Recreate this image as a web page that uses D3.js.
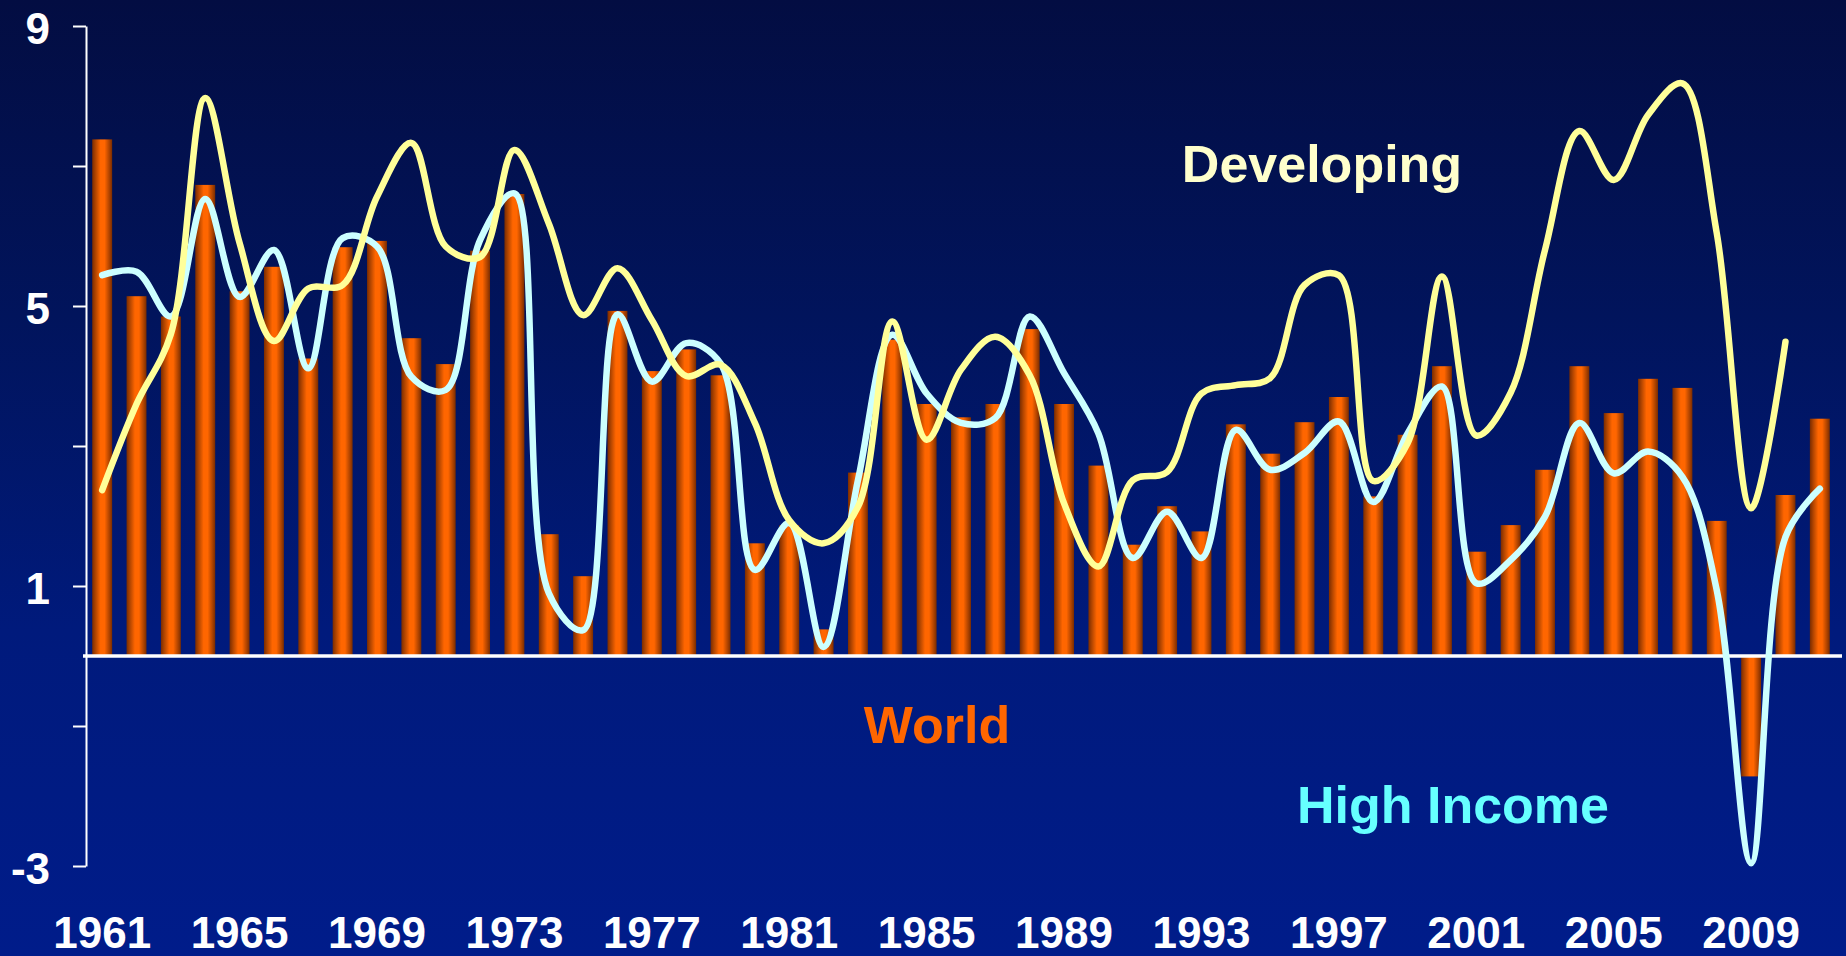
<!DOCTYPE html>
<html>
<head>
<meta charset="utf-8">
<script src="https://cdn.jsdelivr.net/npm/d3@7"></script>
<style>
  html, body { margin: 0; padding: 0; background: #001b88; overflow: hidden; }
  svg { display: block; }
  text { font-family: "Liberation Sans", Arial, Helvetica, sans-serif; font-weight: bold; }
</style>
</head>
<body>
<svg id="chart" width="1846" height="956"></svg>
<script>
// Annual growth rates (%), 1961-2011
const years = d3.range(1961, 2012);

const world = [
  7.38, 5.14, 4.85, 6.73, 5.21, 5.56, 4.25, 5.84, 5.93, 4.54,
  4.17, 5.79, 6.60, 1.74, 1.14, 4.93, 4.07, 4.38, 4.01, 1.61,
  1.87, 0.38, 2.62, 4.52, 3.60, 3.41, 3.60, 4.67, 3.60, 2.72,
  1.59, 2.14, 1.78, 3.31, 2.89, 3.34, 3.70, 2.28, 3.16, 4.14,
  1.49, 1.87, 2.66, 4.14, 3.47, 3.96, 3.83, 1.93, -1.72, 2.30, 3.39
];

// Developing series stops at 2010
const developing = [
  2.37, 3.60, 4.60, 7.97, 5.90, 4.50, 5.25, 5.30, 6.56, 7.33,
  5.85, 5.70, 7.23, 6.18, 4.87, 5.54, 4.80, 4.00, 4.16, 3.33,
  1.94, 1.61, 2.13, 4.78, 3.09, 4.09, 4.56, 4.01, 2.18, 1.28,
  2.51, 2.63, 3.75, 3.87, 3.97, 5.30, 5.44, 2.50, 3.04, 5.42,
  3.15, 3.76, 5.80, 7.50, 6.80, 7.73, 8.18, 6.04, 2.11, 4.49
];

const highIncome = [
  5.44, 5.49, 4.85, 6.53, 5.13, 5.80, 4.11, 5.97, 5.85, 3.99,
  3.80, 5.94, 6.61, 0.90, 0.37, 4.88, 3.92, 4.47, 4.18, 1.23,
  1.90, 0.13, 2.51, 4.59, 3.75, 3.33, 3.40, 4.85, 4.04, 3.18,
  1.40, 2.06, 1.40, 3.23, 2.66, 2.90, 3.35, 2.20, 3.18, 3.85,
  1.04, 1.37, 1.99, 3.33, 2.61, 2.92, 2.56, 0.94, -2.96, 1.70, 2.39
];

const yTicks = [-3, -1, 1, 3, 5, 7, 9];
const yLabelled = [-3, 1, 5, 9];
const xLabelled = d3.range(1961, 2012, 4);

const svg = d3.select("#chart");
const W = 1846, H = 956;

// background: dark navy at the top fading to royal blue
const defs = svg.append("defs");
const bg = defs.append("linearGradient").attr("id", "bg")
  .attr("x1", 0).attr("y1", 0).attr("x2", 0).attr("y2", 1);
[[0, "#030d42"], [0.33, "#01145c"], [0.66, "#001a7c"], [1, "#001c8a"]]
  .forEach(([o, c]) => bg.append("stop").attr("offset", o).attr("stop-color", c));

// cylinder-like shading across each bar
const barGrad = defs.append("linearGradient").attr("id", "barGrad")
  .attr("x1", 0).attr("y1", 0).attr("x2", 1).attr("y2", 0);
[[0, "#7a2c00"], [0.18, "#b44600"], [0.42, "#ff6600"], [0.62, "#ff6600"], [0.85, "#b04400"], [1, "#7a2c00"]]
  .forEach(([o, c]) => barGrad.append("stop").attr("offset", o).attr("stop-color", c));

svg.append("rect").attr("width", W).attr("height", H).attr("fill", "url(#bg)");

const x = d3.scaleBand()
  .domain(years)
  .range([85, 1837])
  .paddingInner(0.42)
  .paddingOuter(0.21);

const y = d3.scaleLinear().domain([-3, 9]).range([866, 26]);

const cx = yr => x(yr) + x.bandwidth() / 2;

// World bars
svg.append("g")
  .selectAll("rect")
  .data(years.map((yr, i) => ({ yr, v: world[i] })))
  .join("rect")
  .attr("x", d => x(d.yr))
  .attr("width", x.bandwidth())
  .attr("y", d => y(Math.max(0, d.v)))
  .attr("height", d => Math.abs(y(d.v) - y(0)))
  .attr("fill", "url(#barGrad)");

// zero line
svg.append("line")
  .attr("x1", 83).attr("x2", 1842)
  .attr("y1", y(0)).attr("y2", y(0))
  .attr("stroke", "#ffffff").attr("stroke-width", 3.5);

// y axis
const yAxis = d3.axisLeft(y)
  .tickValues(yTicks)
  .tickSize(13)
  .tickSizeOuter(0)
  .tickPadding(23)
  .tickFormat(d => yLabelled.includes(d) ? String(d) : "");

const gy = svg.append("g").attr("transform", "translate(86,0)").call(yAxis);
gy.select(".domain").attr("stroke", "#ffffff").attr("stroke-width", 2);
gy.selectAll(".tick line").attr("stroke", "#ffffff").attr("stroke-width", 2);
gy.selectAll(".tick text")
  .attr("fill", "#ffffff")
  .attr("font-size", 44)
  .attr("font-family", "Liberation Sans, Arial, sans-serif")
  .attr("font-weight", "bold")
  .attr("dy", "0.39em");

// x axis: year labels every fourth year
const xAxis = d3.axisBottom(x)
  .tickValues(xLabelled)
  .tickSize(0)
  .tickSizeOuter(0);
const gx = svg.append("g").attr("transform", "translate(0,948)").call(xAxis);
gx.select(".domain").remove();
gx.selectAll(".tick text")
  .attr("y", 0).attr("dy", 0)
  .attr("fill", "#ffffff")
  .attr("font-size", 44)
  .attr("font-family", "Liberation Sans, Arial, sans-serif")
  .attr("font-weight", "bold");

// smoothed growth lines
const line = d3.line()
  .x(d => cx(d.yr))
  .y(d => y(d.v))
  .curve(d3.curveCatmullRom.alpha(0.5));

svg.append("path")
  .datum(years.map((yr, i) => ({ yr, v: highIncome[i] })))
  .attr("d", line)
  .attr("fill", "none")
  .attr("stroke", "#ccffff")
  .attr("stroke-width", 6.5)
  .attr("stroke-linecap", "round")
  .attr("stroke-linejoin", "round");

svg.append("path")
  .datum(developing.map((v, i) => ({ yr: years[i], v })))
  .attr("d", line)
  .attr("fill", "none")
  .attr("stroke", "#ffff99")
  .attr("stroke-width", 6.5)
  .attr("stroke-linecap", "round")
  .attr("stroke-linejoin", "round");

// series labels
const labels = [
  { text: "Developing", x: 1322, y: 182, color: "#ffffcc" },
  { text: "World", x: 937, y: 743, color: "#ff6600" },
  { text: "High Income", x: 1453, y: 823, color: "#66ffff" }
];
svg.append("g").selectAll("text")
  .data(labels)
  .join("text")
  .attr("x", d => d.x)
  .attr("y", d => d.y)
  .attr("text-anchor", "middle")
  .attr("font-size", 52)
  .attr("fill", d => d.color)
  .text(d => d.text);
</script>
</body>
</html>
